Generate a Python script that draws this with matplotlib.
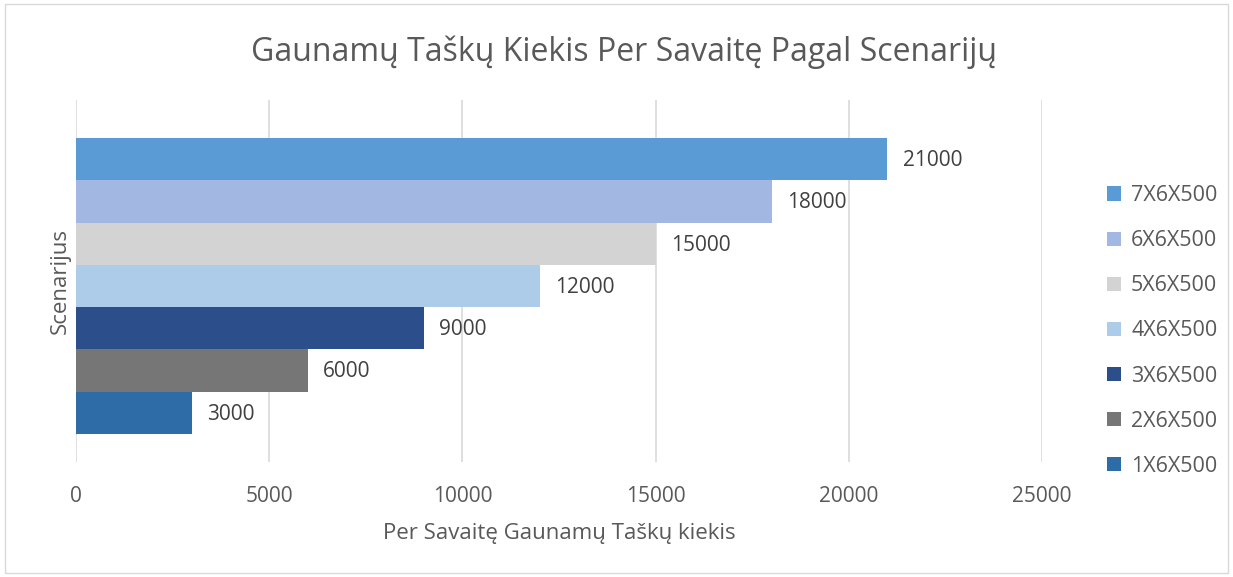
import matplotlib
matplotlib.use("Agg")
import matplotlib.pyplot as plt
from matplotlib.patches import Rectangle

scenarios = ["1X6X500", "2X6X500", "3X6X500", "4X6X500", "5X6X500", "6X6X500", "7X6X500"]
points = [3000, 6000, 9000, 12000, 15000, 18000, 21000]
colors = ["#2e6ca8", "#767676", "#2c4e8a", "#acccea", "#d3d3d3", "#a2b8e2", "#5b9bd5"]
xticks = [0, 5000, 10000, 15000, 20000, 25000]

TXT = "#595959"
plt.rcParams["font.family"] = ["Open Sans", "DejaVu Sans"]

fig = plt.figure(figsize=(12.33, 5.77), dpi=100)
ax = fig.add_axes([76 / 1233, 1 - 462 / 577, (1042 - 76) / 1233, (462 - 100) / 577])

handles = []
for i, (s, v, c) in enumerate(zip(scenarios, points, colors)):
    b = ax.barh(i, v, height=1.0, color=c, label=s, zorder=3)
    handles.append(b)
    ax.annotate(f"{v}", (v, i), xytext=(11, -1), textcoords="offset points",
                va="center", ha="left", fontsize=15, color="#404040")

ax.set_xlim(0, 25000)
ax.set_ylim(-0.5 - 28 / 42.3, 6.5 + 38 / 42.3)
ax.set_xticks(xticks)
ax.set_xticklabels([str(t) for t in xticks], fontsize=15, color=TXT)
ax.set_yticks([])
ax.tick_params(axis="x", length=0, pad=17)
ax.grid(axis="x", color="#d9d9d9", lw=1.2, zorder=0)
for sp in ax.spines.values():
    sp.set_visible(False)

ax.set_xlabel("Per Savaitę Gaunamų Taškų kiekis", fontsize=16, color=TXT, labelpad=12)
ax.set_ylabel("Scenarijus", fontsize=16, color=TXT, labelpad=4)
fig.text(624 / 1233, 1 - 52 / 577, "Gaunamų Taškų Kiekis Per Savaitę Pagal Scenarijų",
         ha="center", va="center", fontsize=23, color=TXT)

leg = fig.legend(handles[::-1], scenarios[::-1], loc="center left",
                 bbox_to_anchor=(1088 / 1233, 1 - 331 / 577), frameon=False,
                 fontsize=15.5, labelcolor=TXT, handlelength=0.65, handleheight=0.65,
                 labelspacing=1.12, handletextpad=0.45)

fig.patches.append(Rectangle((5 / 1233, 4 / 577), 1 - 10 / 1233, 1 - 8 / 577,
                             transform=fig.transFigure, fill=False, ec="#d9d9d9", lw=1))

fig.savefig("out.png", dpi=100)
